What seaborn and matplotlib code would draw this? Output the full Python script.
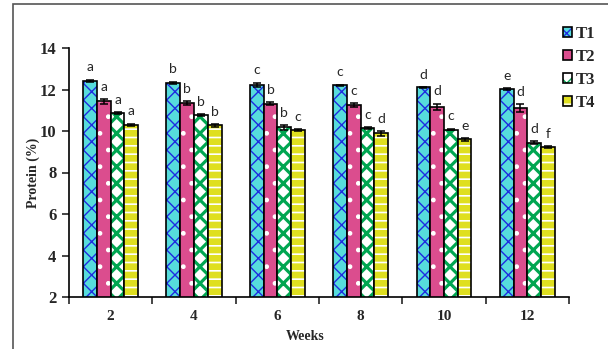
import numpy as np
import pandas as pd
import matplotlib
matplotlib.use("Agg")
import matplotlib.pyplot as plt
from matplotlib.colors import to_rgba
from matplotlib.patches import Rectangle
import seaborn as sns

# data
weeks = ['2', '4', '6', '8', '10', '12']
treatments = ['T1', 'T2', 'T3', 'T4']
t1 = [12.42, 12.33, 12.23, 12.20, 12.10, 12.03]
t2 = [11.43, 11.35, 11.31, 11.27, 11.17, 11.10]
t3 = [10.87, 10.76, 10.17, 10.13, 10.07, 9.44]
t4 = [10.31, 10.27, 10.04, 9.88, 9.60, 9.23]
e1 = [0.06, 0.05, 0.10, 0.04, 0.03, 0.04]
e2 = [0.12, 0.08, 0.08, 0.09, 0.15, 0.18]
e3 = [0.03, 0.04, 0.10, 0.04, 0.04, 0.08]
e4 = [0.05, 0.07, 0.05, 0.10, 0.06, 0.04]
l1 = ['a', 'b', 'c', 'c', 'd', 'e']
l2 = ['a', 'b', 'b', 'c', 'd', 'd']
l3 = ['a', 'b', 'b', 'c', 'c', 'd']
l4 = ['a', 'b', 'c', 'd', 'e', 'f']

values = [t1, t2, t3, t4]
errors = [e1, e2, e3, e4]
letters = [l1, l2, l3, l4]

face_colors = ['#40F2F2', '#F2368C', '#FFFFFF', '#FFFF00']
hatches = ['xx', '.', 'xx', '--']
hatch_colors = ['#1E2BE0', '#FFFFFF', '#00A651', '#FFFFFF']
hatch_widths = [1.0, 1.0, 2.3, 1.2]

df = pd.DataFrame({
    'Week': weeks * 4,
    'Treatment': np.repeat(treatments, len(weeks)),
    'Protein': t1 + t2 + t3 + t4,
})

sns.set_style("ticks")
serif = 'Liberation Serif'

fig = plt.figure(figsize=(6.08, 3.49), dpi=100)
ax = fig.add_axes([69/608, 1 - 297/349, 500/608, 249/349])

sns.barplot(data=df, x='Week', y='Protein', hue='Treatment', order=weeks,
            hue_order=treatments, palette=face_colors, width=0.66,
            edgecolor='black', linewidth=1.2, errorbar=None, legend=False, ax=ax)

for cont, h, hc, hw, vals, errs, labs in zip(ax.containers, hatches, hatch_colors,
                                             hatch_widths, values, errors, letters):
    xs = []
    for bar in cont.patches:
        bar.set_hatch(h)
        bar._hatch_color = to_rgba(hc)
        if hasattr(bar, 'set_hatch_linewidth'):
            bar.set_hatch_linewidth(hw)
        xs.append(bar.get_x() + bar.get_width() / 2)
    ax.errorbar(xs, vals, yerr=errs, fmt='none', ecolor='black',
                elinewidth=1.1, capsize=3, capthick=1.1, zorder=5)
    for x, v, e, lab in zip(xs, vals, errs, labs):
        ax.annotate(lab, (x, v + e), xytext=(0, 4.5), textcoords='offset points',
                    ha='center', va='bottom', fontsize=10, family='Lato',
                    annotation_clip=False)

ax.set_ylim(2, 14)
ax.set_yticks([2, 4, 6, 8, 10, 12, 14])
ax.set_xlim(-0.5, 5.5)
ax.set_xticks(np.arange(-0.5, 6, 1))
ax.set_xticklabels([])
ax.set_xticks(range(len(weeks)), minor=True)
ax.set_xticklabels(weeks, minor=True)
ax.tick_params(axis='x', which='major', length=5, width=1.2, direction='out')
ax.tick_params(axis='x', which='minor', length=0, pad=9)
ax.tick_params(axis='y', length=5, width=1.2, direction='out', pad=4)
for lab in ax.get_xticklabels(minor=True):
    lab.set_fontfamily(serif)
    lab.set_fontweight('bold')
    lab.set_fontsize(11)
for lab in ax.get_yticklabels():
    lab.set_fontfamily(serif)
    lab.set_fontweight('bold')
    lab.set_fontsize(12)

sns.despine(ax=ax)
for s in ['left', 'bottom']:
    ax.spines[s].set_linewidth(1.2)
    ax.spines[s].set_color('black')

ax.set_ylabel('Protein (%)', fontsize=10, fontweight='bold', family=serif)
ax.set_xlabel('Weeks', fontsize=10, fontweight='bold', family=serif)
ax.yaxis.set_label_coords(-0.058, 0.5)
ax.xaxis.set_label_coords(0.472, -0.133)

fig.legend(ax.containers, treatments, loc='upper left',
           bbox_to_anchor=(563/608, 1 - 26/349), frameon=False,
           prop={'family': serif, 'weight': 'bold', 'size': 12},
           handlelength=0.55, handleheight=0.55, handletextpad=0.2,
           labelspacing=0.42, borderpad=0, borderaxespad=0)

fig.patches.append(Rectangle((13/608, -0.05), 1.0, 1.05 - 3.5/349, fill=False,
                             edgecolor='#555555', linewidth=1.2,
                             transform=fig.transFigure))

fig.savefig('out.png', dpi=100)
